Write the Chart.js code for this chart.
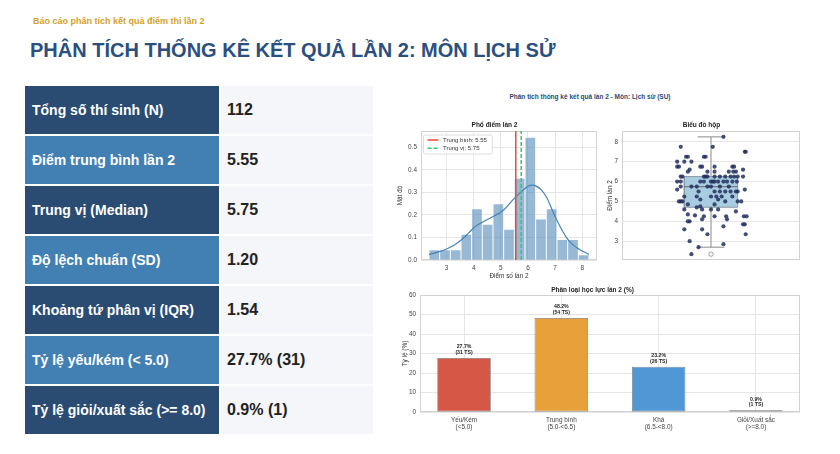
<!DOCTYPE html>
<html><head><meta charset="utf-8">
<script src="https://cdn.jsdelivr.net/npm/chart.js@4.4.1/dist/chart.umd.min.js"></script>
<style>
body{margin:0;width:840px;height:454px;background:#fff;font-family:'Liberation Sans',Arial,sans-serif;position:relative;overflow:hidden}
.sub{position:absolute;left:33px;top:16px;font-size:9px;font-weight:bold;color:#d4a02c;white-space:nowrap}
.title{position:absolute;left:30px;top:39px;font-size:20px;font-weight:bold;color:#2b4f7e;white-space:nowrap}
.lab,.val{position:absolute;height:48px;display:flex;align-items:center;box-sizing:border-box;font-weight:bold;white-space:nowrap}
.lab{left:25px;width:194px;color:#fff;font-size:14px;padding-left:7px}
.val{left:221px;width:152px;background:#f4f6f9;font-size:16px;color:#222;padding-left:6px}
.dark{background:#2b4c72}.light{background:#4280b4}
canvas{position:absolute}
.sup{position:absolute;left:470px;width:240px;top:93px;text-align:center;font-size:6.5px;font-weight:bold;color:#2c4a70;white-space:nowrap}
</style></head><body>
<div class="sub">Báo cáo phân tích kết quả điểm thi lần 2</div>
<div class="title">PHÂN TÍCH THỐNG KÊ KẾT QUẢ LẦN 2: MÔN LỊCH SỬ</div>
<div id="table"></div>
<div class="sup">Phân tích thống kê kết quả lần 2 - Môn: Lịch sử (SU)</div>
<canvas id="hist" width="213" height="172" style="left:392px;top:115px"></canvas>
<canvas id="box" width="207" height="172" style="left:603px;top:115px"></canvas>
<canvas id="bar" width="425" height="159" style="left:385px;top:281px"></canvas>
<script>
// ---------- data ----------
const statLabels = ['Tổng số thí sinh (N)', 'Điểm trung bình lần 2', 'Trung vị (Median)', 'Độ lệch chuẩn (SD)', 'Khoảng tứ phân vị (IQR)', 'Tỷ lệ yếu/kém (< 5.0)', 'Tỷ lệ giỏi/xuất sắc (>= 8.0)'];
const statValues = ['112', '5.55', '5.75', '1.20', '1.54', '27.7% (31)', '0.9% (1)'];

const meanScore = 5.55;
const medianScore = 5.75;

const histCenters = [2.547, 2.940, 3.333, 3.727, 4.120, 4.513, 4.907, 5.300, 5.693, 6.087, 6.480, 6.873, 7.267, 7.660, 8.053];
const histDensity = [0.045, 0.045, 0.045, 0.114, 0.227, 0.159, 0.250, 0.136, 0.363, 0.545, 0.182, 0.227, 0.091, 0.091, 0.023];
const kdeX = [2.35, 2.7, 3.0, 3.3, 3.55, 3.8, 4.05, 4.35, 4.75, 5.1, 5.45, 5.8, 6.0, 6.15, 6.3, 6.5, 6.7, 6.9, 7.15, 7.4, 7.65, 7.9, 8.25];
const kdeY = [0.025, 0.036, 0.049, 0.068, 0.09, 0.118, 0.148, 0.17, 0.195, 0.222, 0.268, 0.308, 0.327, 0.332, 0.328, 0.31, 0.275, 0.22, 0.156, 0.103, 0.068, 0.047, 0.025];
const histXTicks = [3, 4, 5, 6, 7, 8];
const histYTicks = [0, 0.1, 0.2, 0.3, 0.4, 0.5];

const scores = [2.35, 2.7, 2.85, 3.0, 3.35, 3.35, 3.6, 3.6, 3.75, 3.85, 3.85,
  4.0, 4.0, 4.1, 4.1, 4.25, 4.25, 4.25, 4.25, 4.25, 4.3,
  4.35, 4.5, 4.6, 4.6, 4.6, 4.6, 4.7,
  4.75, 4.85, 4.85, 5.0, 5.0, 5.0, 5.0, 5.0, 5.0, 5.1, 5.1,
  5.25, 5.25, 5.25, 5.25, 5.25, 5.25,
  5.5, 5.5, 5.5, 5.5, 5.5, 5.5, 5.5, 5.6, 5.6, 5.75, 5.75, 5.75, 5.75, 5.75, 5.75, 5.75,
  6.0, 6.0, 6.0, 6.0, 6.0, 6.0, 6.0, 6.0, 6.0, 6.0, 6.0, 6.0,
  6.25, 6.25, 6.25, 6.25, 6.25, 6.25, 6.25, 6.25, 6.25, 6.25, 6.25, 6.25,
  6.5, 6.5, 6.5, 6.5, 6.5, 6.5, 6.6, 6.6,
  6.75, 6.75, 6.75, 6.75, 6.75, 6.75, 6.75, 7.0, 7.0, 7.0,
  7.25, 7.25, 7.25, 7.25, 7.5, 7.5, 7.75, 7.75, 8.25];
const jitter = [-0.11, -0.07, 0.07, -0.12, -0.02, 0.195, -0.15, -0.05, 0.07, 0.18, 0.19,
  -0.13, -0.12, -0.05, 0.09, -0.04, 0.02, 0.085, 0.185, 0.2, -0.09,
  -0.13, 0.14, -0.15, -0.05, 0.0, 0.04, -0.08,
  -0.06, -0.13, 0.02, -0.18, -0.17, -0.16, 0.08, 0.15, 0.17, -0.06, 0.04,
  -0.15, -0.08, 0.0, 0.03, 0.06, 0.12,
  -0.07, 0.02, 0.05, 0.08, 0.11, 0.14, 0.15, -0.19, 0.19, -0.17, -0.11, -0.08, -0.02, 0.0, 0.05, 0.1,
  -0.19, -0.17, -0.06, -0.04, 0.0, 0.01, 0.02, 0.04, 0.07, 0.09, 0.12, 0.145,
  -0.17, -0.16, -0.04, -0.03, -0.02, 0.02, 0.05, 0.08, 0.11, 0.13, 0.15, 0.18,
  -0.13, -0.02, 0.02, 0.1, 0.125, 0.14, 0.18, -0.12,
  -0.19, -0.18, -0.06, -0.05, 0.02, 0.12, 0.13, -0.19, -0.15, -0.11,
  -0.14, -0.13, -0.04, -0.03, 0.19, 0.195, -0.17, 0.01, 0.07];
const boxQ1 = 4.71, boxMedian = 5.75, boxQ3 = 6.25, whiskerLow = 2.7, whiskerHigh = 8.25;
const outliers = [2.35];
const boxYTicks = [3, 4, 5, 6, 7, 8];

const levelLabels = [['Yếu/Kém', '(<5.0)'], ['Trung bình', '(5.0-<6.5)'], ['Khá', '(6.5-<8.0)'], ['Giỏi/Xuất sắc', '(>=8.0)']];
const levelPct = [27.7, 48.2, 23.2, 0.9];
const levelCount = [31, 54, 26, 1];
const levelColors = ['#d65746', '#e8a03a', '#5097d6', '#5abe6e'];
const barYTicks = [0, 10, 20, 30, 40, 50, 60];

// ---------- table ----------
const tbl = document.getElementById('table');
statLabels.forEach((l, i) => {
  const top = 86 + i * 50;
  const a = document.createElement('div');
  a.className = 'lab ' + (i % 2 === 0 ? 'dark' : 'light');
  a.style.top = top + 'px'; a.textContent = l; tbl.appendChild(a);
  const b = document.createElement('div');
  b.className = 'val'; b.style.top = top + 'px'; b.textContent = statValues[i]; tbl.appendChild(b);
});

// ---------- charts ----------
const FONT = "'Liberation Sans', Arial, sans-serif";
Chart.defaults.font.family = FONT;
Chart.defaults.color = '#333';
Chart.defaults.animation = false;
Chart.defaults.plugins.legend.display = false;
Chart.defaults.plugins.tooltip.enabled = false;
const GRID = '#e6e6e6';
const TICK = 6.4;
const fixW = w => s => { s.width = w; };
const fixH = h => s => { s.height = h; };
const ticksAt = arr => s => { s.ticks = arr.map(v => ({value: v})); };
const titleOpt = (text, top, bottom) => ({display: true, text, color: '#222', font: {size: 6.5, weight: 'bold', lineHeight: 1.2}, padding: {top, bottom}});
const axisTitle = (text, pad) => ({display: true, text, color: '#333', font: {size: 6.4, lineHeight: 1.2}, padding: pad});

const framePlugin = {id: 'frame', beforeDatasetsDraw(chart) {
  const {ctx, chartArea: a} = chart;
  ctx.save(); ctx.strokeStyle = '#d2d2d2'; ctx.lineWidth = 1;
  ctx.strokeRect(Math.round(a.left) + 0.5, Math.round(a.top) + 0.5, Math.round(a.right - a.left) - 1, Math.round(a.bottom - a.top) - 1);
  ctx.restore();
}};

const histLegend = {id: 'histLegend', afterDatasetsDraw(chart) {
  const {ctx, chartArea: a} = chart;
  const items = chart.data.datasets.filter(d => d.label);
  ctx.save();
  ctx.font = '6px ' + FONT;
  const tw = Math.max(...items.map(d => ctx.measureText(d.label).width));
  const x = a.left + 2.5, y = a.top + 4, w = tw + 25, h = 19;
  ctx.fillStyle = 'rgba(255,255,255,0.9)'; ctx.strokeStyle = '#d5d5d5'; ctx.lineWidth = 0.8;
  ctx.beginPath(); ctx.roundRect(x, y, w, h, 2); ctx.fill(); ctx.stroke();
  items.forEach((d, i) => {
    const ly = y + 5 + i * 8.3;
    ctx.strokeStyle = d.borderColor; ctx.lineWidth = 1.5; ctx.setLineDash(d.borderDash || []);
    ctx.beginPath(); ctx.moveTo(x + 4, ly); ctx.lineTo(x + 15, ly); ctx.stroke();
    ctx.setLineDash([]);
    ctx.fillStyle = '#333'; ctx.textBaseline = 'middle';
    ctx.fillText(d.label, x + 19.5, ly);
  });
  ctx.restore();
}};

const histYMax = 0.5725;
new Chart(document.getElementById('hist'), {
  type: 'bar',
  data: {datasets: [
    {type: 'bar', data: histCenters.map((x, i) => ({x, y: histDensity[i]})), backgroundColor: 'rgba(70,130,180,0.56)', borderColor: '#ffffff', borderWidth: 0.8, barPercentage: 1, categoryPercentage: 1, order: 4},
    {type: 'line', data: kdeX.map((x, i) => ({x, y: kdeY[i]})), borderColor: '#4682b4', borderWidth: 1.2, pointRadius: 0, cubicInterpolationMode: 'monotone', fill: false, order: 3},
    {type: 'line', label: 'Trung bình: ' + meanScore.toFixed(2), data: [{x: meanScore, y: 0}, {x: meanScore, y: histYMax}], borderColor: '#e74c3c', borderWidth: 1.5, pointRadius: 0, order: 2},
    {type: 'line', label: 'Trung vị: ' + medianScore.toFixed(2), data: [{x: medianScore, y: 0}, {x: medianScore, y: histYMax}], borderColor: '#2ecc71', borderDash: [4, 2], borderWidth: 1.5, pointRadius: 0, order: 1}
  ]},
  options: {
    responsive: false,
    layout: {padding: {right: 8}},
    plugins: {title: titleOpt('Phổ điểm lần 2', 6, 2.2)},
    scales: {
      x: {type: 'linear', offset: false, min: 2.055, max: 8.545, afterBuildTicks: ticksAt(histXTicks), afterFit: fixH(27),
        grid: {color: GRID, offset: false, drawTicks: false}, border: {display: false},
        ticks: {font: {size: TICK}, padding: 4, color: '#444', callback: v => String(v)},
        title: axisTitle('Điểm số lần 2', {top: 0, bottom: 7.3})},
      y: {min: 0, max: histYMax, afterBuildTicks: ticksAt(histYTicks), afterFit: fixW(29),
        grid: {color: GRID, drawTicks: false}, border: {display: false},
        ticks: {font: {size: TICK}, padding: 4, color: '#444', callback: v => v.toFixed(1)},
        title: axisTitle('Mật độ', {top: 4.5, bottom: 0})}
    }
  },
  plugins: [framePlugin, histLegend]
});

const boxHalf = 0.15, capHalf = 0.075;
const seg = (x1, y1, x2, y2) => [{x: x1, y: y1}, {x: x2, y: y2}];
const lineDs = (data, color, width, order) => ({data, showLine: true, borderColor: color, borderWidth: width, pointRadius: 0, fill: false, order});
new Chart(document.getElementById('box'), {
  type: 'scatter',
  data: {datasets: [
    {data: scores.map((s, i) => ({x: jitter[i], y: s})), backgroundColor: 'rgba(35,48,95,0.85)', borderWidth: 0, pointRadius: 2.1, order: 0},
    {data: seg(-boxHalf, boxQ3, boxHalf, boxQ3), showLine: true, fill: '+1', backgroundColor: '#a9cde0', borderWidth: 0, pointRadius: 0, order: 9},
    {data: seg(-boxHalf, boxQ1, boxHalf, boxQ1), showLine: true, borderWidth: 0, pointRadius: 0, order: 10},
    lineDs([{x: -boxHalf, y: boxQ1}, {x: boxHalf, y: boxQ1}, {x: boxHalf, y: boxQ3}, {x: -boxHalf, y: boxQ3}, {x: -boxHalf, y: boxQ1}], '#8797a3', 1, 5),
    lineDs(seg(-boxHalf, boxMedian, boxHalf, boxMedian), '#7a7a7a', 1.2, 4),
    lineDs(seg(0, whiskerLow, 0, boxQ1), '#8a8a8a', 1, 6),
    lineDs(seg(0, boxQ3, 0, whiskerHigh), '#8a8a8a', 1, 6),
    lineDs(seg(-capHalf, whiskerLow, capHalf, whiskerLow), '#8a8a8a', 1, 6),
    lineDs(seg(-capHalf, whiskerHigh, capHalf, whiskerHigh), '#8a8a8a', 1, 6),
    {data: outliers.map(v => ({x: 0, y: v})), backgroundColor: '#ffffff', borderColor: '#8a8a8a', borderWidth: 0.8, pointRadius: 2.2, order: 3}
  ]},
  options: {
    responsive: false,
    layout: {padding: {right: 10, bottom: 27}},
    plugins: {title: titleOpt('Biểu đồ hộp', 6, 2.2)},
    scales: {
      x: {type: 'linear', min: -0.5, max: 0.5, display: false},
      y: {min: 2.055, max: 8.545, afterBuildTicks: ticksAt(boxYTicks), afterFit: fixW(19),
        grid: {color: GRID, drawTicks: false}, border: {display: false},
        ticks: {font: {size: TICK}, padding: 4, color: '#444', callback: v => String(v)},
        title: axisTitle('Điểm lần 2', {top: 3, bottom: 0})}
    }
  },
  plugins: [framePlugin]
});

const barLabels = {id: 'barLabels', afterDatasetsDraw(chart) {
  const {ctx} = chart;
  const meta = chart.getDatasetMeta(0);
  ctx.save();
  ctx.font = 'bold 5.2px ' + FONT; ctx.fillStyle = '#222'; ctx.textAlign = 'center'; ctx.textBaseline = 'middle';
  meta.data.forEach((b, i) => {
    ctx.fillText(levelPct[i].toFixed(1) + '%', b.x, b.y - 11);
    ctx.fillText('(' + levelCount[i] + ' TS)', b.x, b.y - 5.3);
  });
  ctx.restore();
}};
new Chart(document.getElementById('bar'), {
  type: 'bar',
  data: {datasets: [{data: levelPct.map((p, i) => ({x: i, y: p})), backgroundColor: levelColors, borderColor: 'rgba(70,70,70,0.75)', borderWidth: 0.8, borderSkipped: false, barPercentage: 0.55, categoryPercentage: 1}]},
  options: {
    responsive: false,
    layout: {padding: {right: 10}},
    plugins: {title: titleOpt('Phân loại học lực lần 2 (%)', 5, 1.2)},
    scales: {
      x: {type: 'linear', offset: false, min: -0.4525, max: 3.4525, afterBuildTicks: ticksAt(levelLabels.map((_, i) => i)), afterFit: fixH(28),
        grid: {color: GRID, offset: false, drawTicks: false}, border: {display: false},
        ticks: {font: {size: TICK, lineHeight: 1.1}, padding: 4.5, color: '#444', callback: v => levelLabels[v]}},
      y: {min: 0, max: 60, afterBuildTicks: ticksAt(barYTicks), afterFit: fixW(35),
        grid: {color: GRID, drawTicks: false}, border: {display: false},
        ticks: {font: {size: TICK}, padding: 4, color: '#444', callback: v => String(v)},
        title: axisTitle('Tỷ lệ (%)', {top: 16, bottom: 0})}
    }
  },
  plugins: [framePlugin, barLabels]
});
</script>
</body></html>
